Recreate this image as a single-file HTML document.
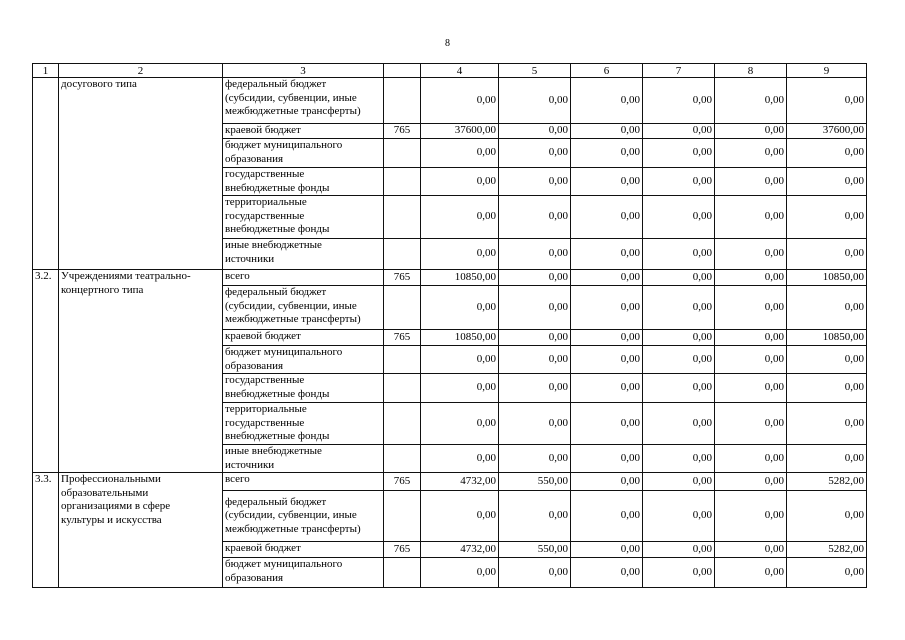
<!DOCTYPE html>
<html><head><meta charset="utf-8"><style>
html,body{margin:0;padding:0;background:#fff;width:905px;height:640px;overflow:hidden}
body{position:relative;font-family:"Liberation Serif","DejaVu Serif",serif;color:#000}
.pn{position:absolute;left:445px;top:38px;font-size:10px}
table{position:absolute;left:32px;top:63px;border-collapse:collapse;table-layout:fixed;font-size:11px}
td{border:1px solid #111;padding:0 2px;line-height:13.5px;vertical-align:middle;overflow:hidden;white-space:nowrap}
td.t{vertical-align:top}
td.n{text-align:right}
td.c{text-align:center}
tr.h td{text-align:center;line-height:12px}
</style></head><body>
<div class="pn">8</div>
<table>
<colgroup><col style="width:26px"><col style="width:164px"><col style="width:161px"><col style="width:37px"><col style="width:78px"><col style="width:72px"><col style="width:72px"><col style="width:72px"><col style="width:72px"><col style="width:80px"></colgroup>
<tr class="h" style="height:14px"><td>1</td><td>2</td><td>3</td><td></td><td>4</td><td>5</td><td>6</td><td>7</td><td>8</td><td>9</td></tr>
<tr style="height:46px"><td rowspan="6" class="t"></td><td rowspan="6" class="t">досугового типа</td><td class="t">федеральный бюджет<br>(субсидии, субвенции, иные<br>межбюджетные трансферты)</td><td></td><td class="n">0,00</td><td class="n">0,00</td><td class="n">0,00</td><td class="n">0,00</td><td class="n">0,00</td><td class="n">0,00</td></tr>
<tr style="height:15px"><td class="t">краевой бюджет</td><td class="c">765</td><td class="n">37600,00</td><td class="n">0,00</td><td class="n">0,00</td><td class="n">0,00</td><td class="n">0,00</td><td class="n">37600,00</td></tr>
<tr style="height:29px"><td class="t">бюджет муниципального<br>образования</td><td></td><td class="n">0,00</td><td class="n">0,00</td><td class="n">0,00</td><td class="n">0,00</td><td class="n">0,00</td><td class="n">0,00</td></tr>
<tr style="height:28px"><td class="t">государственные<br>внебюджетные фонды</td><td></td><td class="n">0,00</td><td class="n">0,00</td><td class="n">0,00</td><td class="n">0,00</td><td class="n">0,00</td><td class="n">0,00</td></tr>
<tr style="height:43px"><td class="t">территориальные<br>государственные<br>внебюджетные фонды</td><td></td><td class="n">0,00</td><td class="n">0,00</td><td class="n">0,00</td><td class="n">0,00</td><td class="n">0,00</td><td class="n">0,00</td></tr>
<tr style="height:31px"><td class="t">иные внебюджетные<br>источники</td><td></td><td class="n">0,00</td><td class="n">0,00</td><td class="n">0,00</td><td class="n">0,00</td><td class="n">0,00</td><td class="n">0,00</td></tr>
<tr style="height:16px"><td rowspan="7" class="t">3.2.</td><td rowspan="7" class="t">Учреждениями театрально-<br>концертного типа</td><td class="t">всего</td><td class="c">765</td><td class="n">10850,00</td><td class="n">0,00</td><td class="n">0,00</td><td class="n">0,00</td><td class="n">0,00</td><td class="n">10850,00</td></tr>
<tr style="height:44px"><td class="t">федеральный бюджет<br>(субсидии, субвенции, иные<br>межбюджетные трансферты)</td><td></td><td class="n">0,00</td><td class="n">0,00</td><td class="n">0,00</td><td class="n">0,00</td><td class="n">0,00</td><td class="n">0,00</td></tr>
<tr style="height:16px"><td class="t">краевой бюджет</td><td class="c">765</td><td class="n">10850,00</td><td class="n">0,00</td><td class="n">0,00</td><td class="n">0,00</td><td class="n">0,00</td><td class="n">10850,00</td></tr>
<tr style="height:28px"><td class="t">бюджет муниципального<br>образования</td><td></td><td class="n">0,00</td><td class="n">0,00</td><td class="n">0,00</td><td class="n">0,00</td><td class="n">0,00</td><td class="n">0,00</td></tr>
<tr style="height:29px"><td class="t">государственные<br>внебюджетные фонды</td><td></td><td class="n">0,00</td><td class="n">0,00</td><td class="n">0,00</td><td class="n">0,00</td><td class="n">0,00</td><td class="n">0,00</td></tr>
<tr style="height:42px"><td class="t">территориальные<br>государственные<br>внебюджетные фонды</td><td></td><td class="n">0,00</td><td class="n">0,00</td><td class="n">0,00</td><td class="n">0,00</td><td class="n">0,00</td><td class="n">0,00</td></tr>
<tr style="height:28px"><td class="t">иные внебюджетные<br>источники</td><td></td><td class="n">0,00</td><td class="n">0,00</td><td class="n">0,00</td><td class="n">0,00</td><td class="n">0,00</td><td class="n">0,00</td></tr>
<tr style="height:18px"><td rowspan="4" class="t">3.3.</td><td rowspan="4" class="t">Профессиональными<br>образовательными<br>организациями в сфере<br>культуры и искусства</td><td class="t">всего</td><td class="c">765</td><td class="n">4732,00</td><td class="n">550,00</td><td class="n">0,00</td><td class="n">0,00</td><td class="n">0,00</td><td class="n">5282,00</td></tr>
<tr style="height:51px"><td>федеральный бюджет<br>(субсидии, субвенции, иные<br>межбюджетные трансферты)</td><td></td><td class="n">0,00</td><td class="n">0,00</td><td class="n">0,00</td><td class="n">0,00</td><td class="n">0,00</td><td class="n">0,00</td></tr>
<tr style="height:16px"><td class="t">краевой бюджет</td><td class="c">765</td><td class="n">4732,00</td><td class="n">550,00</td><td class="n">0,00</td><td class="n">0,00</td><td class="n">0,00</td><td class="n">5282,00</td></tr>
<tr style="height:30px"><td class="t">бюджет муниципального<br>образования</td><td></td><td class="n">0,00</td><td class="n">0,00</td><td class="n">0,00</td><td class="n">0,00</td><td class="n">0,00</td><td class="n">0,00</td></tr>
</table>
</body></html>
